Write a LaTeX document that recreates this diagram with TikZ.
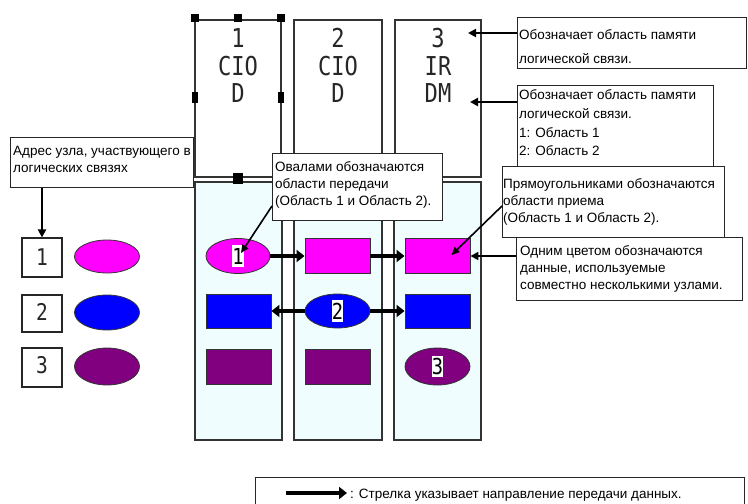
\documentclass[tikz,border=0pt]{standalone}
\usepackage{fontspec}
\setmainfont{Liberation Sans}
\newfontfamily\monofnt[FakeStretch=0.85]{DejaVu Sans Mono}
\usetikzlibrary{arrows.meta,shapes.geometric}
\definecolor{colfill}{RGB}{240,253,255}
\definecolor{cmag}{RGB}{255,0,255}
\definecolor{cblu}{RGB}{0,0,255}
\definecolor{cpur}{RGB}{128,0,128}
\begin{document}
\begin{tikzpicture}[x=1pt,y=-1pt,
  colline/.style={draw=black!80, line width=1.4pt},
  colfillbox/.style={colline, fill=colfill},
  hdr/.style={font=\monofnt\fontsize{26}{28}\selectfont, anchor=base, inner sep=0pt, text=black!85},
  digit/.style={font=\monofnt\fontsize{23}{25}\selectfont, anchor=base, inner sep=0pt, text=black!85},
  addrbox/.style={draw=black!85, line width=1.1pt, fill=white, minimum width=40pt, inner sep=0pt},
  dataell/.style={ellipse, draw=black!80, line width=0.8pt, minimum width=64pt, minimum height=35pt, inner sep=0pt},
  datarect/.style={rectangle, draw=black!80, line width=0.9pt, minimum width=65pt, minimum height=35pt, inner sep=0pt},
  ellabel/.style={fill=white, inner xsep=0.3pt, inner ysep=2.5pt, font=\monofnt\fontsize{22}{24}\selectfont, text=black},
  callbox/.style={draw=black!85, line width=1pt, fill=white, inner sep=0pt, anchor=north west, rectangle},
  txt/.style={anchor=base west, inner sep=0pt, font=\fontsize{13.5}{16}\selectfont},
  dataarrow/.style={line width=3.6pt, -{Triangle[length=8pt,width=12pt]}},
  callarrow/.style={line width=2.2pt, -{Triangle[length=8pt,width=8pt]}},
  thinarrow/.style={line width=1.6pt, -{Triangle[length=8pt,width=7pt]}},
  handle/.style={fill=black, draw=none, inner sep=0pt, minimum width=8pt, minimum height=8pt, rectangle}
]
\useasboundingbox (0,0) rectangle (748,504);
\clip (0,0) rectangle (748,504);

% ---- column header boxes
\draw[colline, fill=white] (195,20) rectangle (281,177);
\draw[colline, fill=white] (294,20) rectangle (382,177);
\draw[colline, fill=white] (395,20) rectangle (481,177);
% ---- lower column areas
\draw[colfillbox] (195,182) rectangle (282,440);
\draw[colfillbox] (294,182) rectangle (382,440);
\draw[colfillbox] (394,182) rectangle (481,440);

% ---- header texts
\node[hdr] (h1a) at (238,47) {1};
\node[hdr] (h1b) at (238,75) {CIO};
\node[hdr] (h1c) at (238,102) {D};
\node[hdr] (h2a) at (338,47) {2};
\node[hdr] (h2b) at (338,75) {CIO};
\node[hdr] (h2c) at (338,102) {D};
\node[hdr] (h3a) at (438,47) {3};
\node[hdr] (h3b) at (438,75) {IR};
\node[hdr] (h3c) at (438,102) {DM};

% ---- selection handles on column 1 header
\node[handle] (hd1) at (195,18) {};
\node[handle] (hd2) at (238,18) {};
\node[handle] (hd3) at (281,18) {};
\node[handle, minimum width=6pt, minimum height=11pt] (hd4) at (195,97) {};
\node[handle, minimum width=6pt, minimum height=11pt] (hd5) at (281,97) {};
\node[handle, minimum width=10pt, minimum height=11pt] (hd6) at (238,178) {};

% ---- left legend: node addresses
\node[addrbox, minimum height=39pt] (a1) at (42,257.5) {};
\node[addrbox, minimum height=37pt] (a2) at (42,313.5) {};
\node[addrbox, minimum height=39pt] (a3) at (42,367.5) {};
\node[digit] (d1) at (42,265) {1};
\node[digit] (d2) at (42,320) {2};
\node[digit] (d3) at (42,373) {3};
\node[dataell, fill=cmag, minimum width=65pt, minimum height=33pt] (le1) at (107,256.5) {};
\node[dataell, fill=cblu, minimum width=65pt, minimum height=35pt] (le2) at (107,312.5) {};
\node[dataell, fill=cpur, minimum width=65pt, minimum height=37pt] (le3) at (107,366.5) {};

% ---- data areas
\node[dataell, fill=cmag] (el1) at (238,256) {};
\node[ellabel] (lb1) at (238,256) {1};
\node[datarect, fill=cmag] (r12) at (337.5,256) {};
\node[datarect, fill=cmag] (r13) at (437.5,256) {};

\node[datarect, fill=cblu, minimum height=34pt] (r21) at (238.5,311) {};
\node[dataell, fill=cblu, minimum width=65pt, minimum height=34pt] (el22) at (337.5,311) {};
\node[ellabel] (lb2) at (337.5,311) {2};
\node[datarect, fill=cblu, minimum height=34pt] (r23) at (437.5,311) {};

\node[datarect, fill=cpur] (r31) at (238.5,366.5) {};
\node[datarect, fill=cpur] (r32) at (337.5,366.5) {};
\node[dataell, fill=cpur, minimum width=65pt, minimum height=37pt] (el33) at (437.5,366.5) {};
\node[ellabel] (lb3) at (437.5,366.5) {3};

% ---- data flow arrows
\draw[dataarrow] (el1.east) -- (r12.west);
\draw[dataarrow] (r12.east) -- (r13.west);
\draw[dataarrow] (el22.west) -- (r21.east);
\draw[dataarrow] (el22.east) -- (r23.west);

% ---- callout: address
\node[callbox, minimum width=183pt, minimum height=50pt] (bAddr) at (10,137) {};
\node[txt] (tAddr1) at (13,155) {Адрес узла, участвующего в};
\node[txt] (tAddr2) at (13,172) {логических связях};
\draw[callarrow] (a1.north |- bAddr.south) -- (a1.north);

% ---- callout: ovals
\node[callbox, minimum width=170pt, minimum height=67pt] (bOval) at (272,153) {};
\node[txt] (tOval1) at (275,171) {Овалами обозначаются};
\node[txt] (tOval2) at (275,188) {области передачи};
\node[txt] (tOval3) at (275,205) {(Область 1 и Область 2).};
\draw[thinarrow] ([yshift=15pt]bOval.south west) -- ([xshift=3pt,yshift=3pt]el1.center);

% ---- callout: memory area 1
\node[callbox, minimum width=229pt, minimum height=51pt] (bMem1) at (517,17) {};
\node[txt] (tMem1a) at (519,39) {Обозначает область памяти};
\node[txt] (tMem1b) at (519,63) {логической связи.};
\coordinate (m1tip) at (468,33);
\draw[callarrow] (m1tip -| bMem1.west) -- (m1tip);

% ---- callout: memory area 2
\node[callbox, minimum width=196pt, minimum height=92pt] (bMem2) at (517,85) {};
\node[txt] (tMem2a) at (519,99) {Обозначает область памяти};
\node[txt] (tMem2b) at (519,118) {логической связи.};
\node[txt] (tMem2c) at (519,137) {1: Область 1};
\node[txt] (tMem2d) at (519,155) {2: Область 2};
\coordinate (m2tip) at (470,102);
\draw[callarrow] (m2tip -| bMem2.west) -- (m2tip);

% ---- callout: rectangles
\node[callbox, minimum width=222pt, minimum height=71pt] (bRect) at (502,166) {};
\node[txt] (tRect1) at (503,188) {Прямоугольниками обозначаются};
\node[txt] (tRect2) at (503,205) {области приема};
\node[txt] (tRect3) at (503,222) {(Область 1 и Область 2).};
\draw[thinarrow] ([yshift=32pt]bRect.south west) -- ([xshift=14pt,yshift=1pt]r13.center);

% ---- callout: same colour
\node[callbox, minimum width=226pt, minimum height=63pt] (bColor) at (516,237) {};
\node[txt] (tCol1) at (520,255) {Одним цветом обозначаются};
\node[txt] (tCol2) at (520,272) {данные, используемые};
\node[txt] (tCol3) at (520,289) {совместно несколькими узлами.};
\draw[callarrow] (r13.east -| bColor.west) -- (r13.east);

% ---- legend
\node[callbox, minimum width=489pt, minimum height=40pt] (bLeg) at (255,477) {};
\coordinate (lgA) at (286,493);
\coordinate (lgB) at (347,493);
\draw[dataarrow] (lgA) -- (lgB);
\node[txt] (tLeg) at (350,498) {: Стрелка указывает направление передачи данных.};
\end{tikzpicture}
\end{document}
